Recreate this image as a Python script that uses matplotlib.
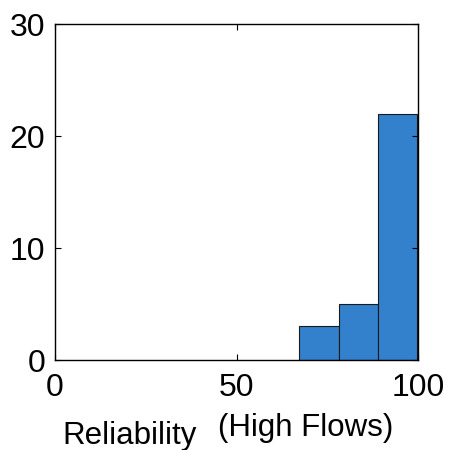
import matplotlib
matplotlib.use("Agg")
import matplotlib.pyplot as plt

plt.rcParams['font.family'] = ['Liberation Sans', 'DejaVu Sans']

bin_edges = [67.3, 78.1, 88.9, 99.7]
counts = [3, 5, 22]

fig = plt.figure(figsize=(4.49, 4.5), dpi=100)
ax = fig.add_axes([55 / 449, 1 - 360 / 450, 363 / 449, 336 / 450])

lefts = bin_edges[:-1]
widths = [bin_edges[i + 1] - bin_edges[i] for i in range(len(counts))]
ax.bar(lefts, counts, width=widths, align='edge', color='#3380cc',
       edgecolor='#1a1a1a', linewidth=0.8)

ax.set_xlim(0, 100)
ax.set_ylim(0, 30)
ax.set_xticks([0, 50, 100])
ax.set_yticks([0, 10, 20, 30])
ax.tick_params(direction='in', top=True, right=True, labelsize=23,
               length=4, width=0.8, pad=7)
ax.tick_params(axis='x', pad=9)
for s in ax.spines.values():
    s.set_linewidth(1.0)

fig.text(62 / 449, 1 - 444 / 450, 'Reliability', fontsize=22.5, ha='left', va='baseline')
fig.text(218 / 449, 1 - 436 / 450, '(High Flows)', fontsize=22.5, ha='left', va='baseline')

fig.savefig('out.png', dpi=100)
